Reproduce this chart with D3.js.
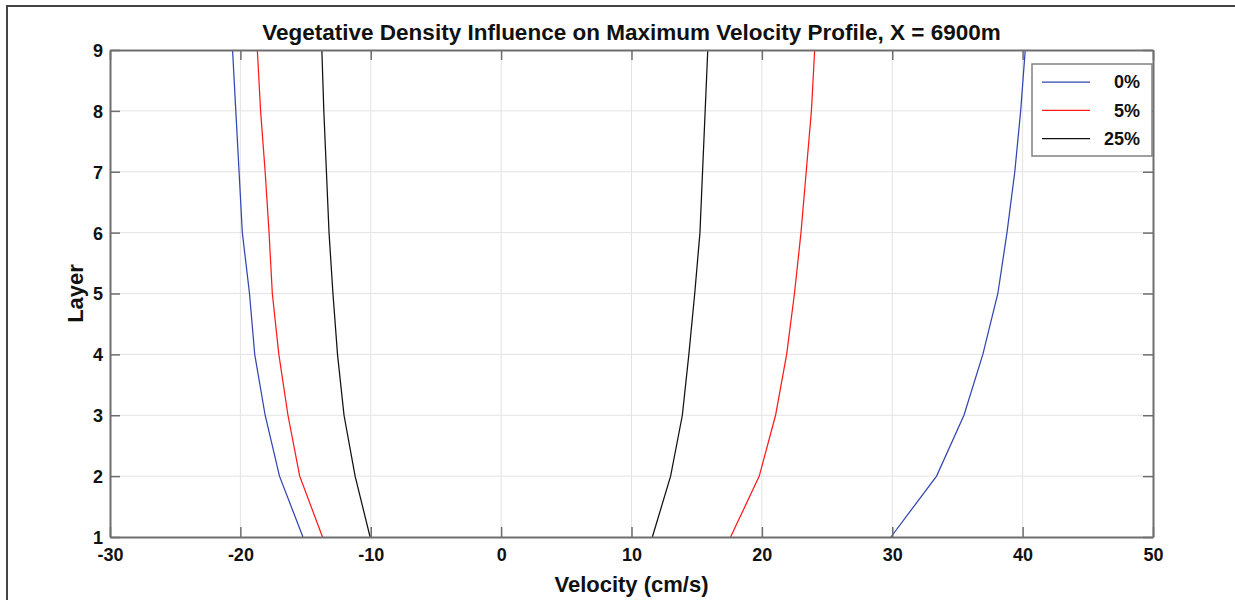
<!DOCTYPE html>
<html>
<head>
<meta charset="utf-8">
<script src="https://cdn.jsdelivr.net/npm/d3@7"></script>
<style>
  body { margin: 0; background: #fff; }
  svg { display: block; font-family: "Liberation Sans", Arial, sans-serif; }
</style>
</head>
<body>
<div id="chart"></div>
<script>
// layers 1..9
const layers = [1, 2, 3, 4, 5, 6, 7, 8, 9];

// minimum (negative) and maximum (positive) velocity per layer, cm/s
const minVel0 = [-15.2, -17.0, -18.1, -18.9, -19.3, -19.85, -20.1, -20.35, -20.6];
const maxVel0 = [29.9, 33.4, 35.5, 36.95, 38.1, 38.8, 39.4, 39.85, 40.2];
const minVel5 = [-13.7, -15.45, -16.35, -17.05, -17.55, -17.8, -18.1, -18.45, -18.7];
const maxVel5 = [17.6, 19.8, 21.05, 21.9, 22.5, 23.0, 23.4, 23.8, 24.05];
const minVel25 = [-10.05, -11.2, -12.05, -12.55, -12.9, -13.2, -13.4, -13.6, -13.75];
const maxVel25 = [11.6, 13.0, 13.9, 14.4, 14.85, 15.25, 15.45, 15.65, 15.85];

const seriesNames = ["0%", "5%", "25%"];
const seriesColors = ["#3346b0", "#ff1a1a", "#111111"];
const xTicks = [-30, -20, -10, 0, 10, 20, 30, 40, 50];
const yTicks = [1, 2, 3, 4, 5, 6, 7, 8, 9];

const width = 1235, height = 600;
const margin = { left: 110, top: 50, right: 1235 - 1153, bottom: 600 - 537 };

const svg = d3.select("#chart").append("svg")
  .attr("width", width)
  .attr("height", height);

// outer figure frame (only left and top edges are in view)
svg.append("path")
  .attr("d", `M7,${height} L7,6 L${width},6`)
  .attr("fill", "none")
  .attr("stroke", "#444")
  .attr("stroke-width", 2);

const x = d3.scaleLinear().domain([-30, 50]).range([margin.left, width - margin.right]);
const y = d3.scaleLinear().domain([1, 9]).range([height - margin.bottom, margin.top]);

// grid
const grid = svg.append("g").attr("stroke", "#e3e3e3").attr("stroke-width", 1);
xTicks.slice(1, -1).forEach(t => {
  grid.append("line")
    .attr("x1", x(t)).attr("x2", x(t))
    .attr("y1", y(1)).attr("y2", y(9));
});
yTicks.slice(1, -1).forEach(t => {
  grid.append("line")
    .attr("x1", x(-30)).attr("x2", x(50))
    .attr("y1", y(t)).attr("y2", y(t));
});

// data lines
const line = d3.line()
  .x(d => x(d[0]))
  .y(d => y(d[1]));

const profiles = [
  [minVel0, maxVel0],
  [minVel5, maxVel5],
  [minVel25, maxVel25]
];

profiles.forEach((pair, i) => {
  pair.forEach(vals => {
    svg.append("path")
      .datum(vals.map((v, k) => [v, layers[k]]))
      .attr("d", line)
      .attr("fill", "none")
      .attr("stroke", seriesColors[i])
      .attr("stroke-width", 1.25);
  });
});

// axes with inward ticks, box style
const tickLen = 10;
const axisColor = "#6e6e6e";
const fmt = d => String(d); // plain hyphen minus like the original

const xAxisB = d3.axisBottom(x).tickValues(xTicks).tickFormat(fmt).tickSizeInner(-tickLen).tickSizeOuter(0).tickPadding(11);
const xAxisT = d3.axisTop(x).tickValues(xTicks).tickSizeInner(-tickLen).tickSizeOuter(0).tickFormat("");
const yAxisL = d3.axisLeft(y).tickValues(yTicks).tickFormat(fmt).tickSizeInner(-tickLen).tickSizeOuter(0).tickPadding(7);
const yAxisR = d3.axisRight(y).tickValues(yTicks).tickSizeInner(-tickLen).tickSizeOuter(0).tickFormat("");

function styleAxis(g) {
  g.select(".domain").attr("stroke", axisColor).attr("stroke-width", 2);
  g.selectAll(".tick line").attr("stroke", axisColor).attr("stroke-width", 1.5);
  g.selectAll(".tick text")
    .attr("fill", "#111")
    .style("font-size", "18px")
    .style("font-weight", "bold");
}

svg.append("g").attr("transform", `translate(0,${y(9)})`).call(xAxisT).call(styleAxis);
svg.append("g").attr("transform", `translate(${x(50)},0)`).call(yAxisR).call(styleAxis);
svg.append("g").attr("transform", `translate(0,${y(1)})`).call(xAxisB).call(styleAxis)
  .selectAll(".tick text").attr("dy", "0.71em");
svg.append("g").attr("transform", `translate(${x(-30)},0)`).call(yAxisL).call(styleAxis)
  .selectAll(".tick text").attr("dy", "0.36em");

// title and axis labels
svg.append("text")
  .attr("x", (x(-30) + x(50)) / 2)
  .attr("y", 40)
  .attr("text-anchor", "middle")
  .style("font-size", "22.5px")
  .style("font-weight", "bold")
  .attr("fill", "#111")
  .text("Vegetative Density Influence on Maximum Velocity Profile, X = 6900m");

svg.append("text")
  .attr("x", (x(-30) + x(50)) / 2)
  .attr("y", 592)
  .attr("text-anchor", "middle")
  .style("font-size", "22px")
  .style("font-weight", "bold")
  .attr("fill", "#111")
  .text("Velocity (cm/s)");

svg.append("text")
  .attr("transform", `translate(83,${(y(1) + y(9)) / 2}) rotate(-90)`)
  .attr("text-anchor", "middle")
  .style("font-size", "22px")
  .style("font-weight", "bold")
  .attr("fill", "#111")
  .text("Layer");

// legend
const legend = svg.append("g").attr("transform", "translate(1032,64)");
legend.append("rect")
  .attr("width", 120).attr("height", 92)
  .attr("fill", "#fff")
  .attr("stroke", "#808080")
  .attr("stroke-width", 1.5);

seriesNames.forEach((name, i) => {
  const ly = 18 + i * 28.3;
  legend.append("line")
    .attr("x1", 10).attr("x2", 58)
    .attr("y1", ly).attr("y2", ly)
    .attr("stroke", seriesColors[i])
    .attr("stroke-width", 1.25);
  legend.append("text")
    .attr("x", 108).attr("y", ly)
    .attr("dy", "0.36em")
    .attr("text-anchor", "end")
    .style("font-size", "18px")
    .style("font-weight", "bold")
    .attr("fill", "#111")
    .text(name);
});
</script>
</body>
</html>
